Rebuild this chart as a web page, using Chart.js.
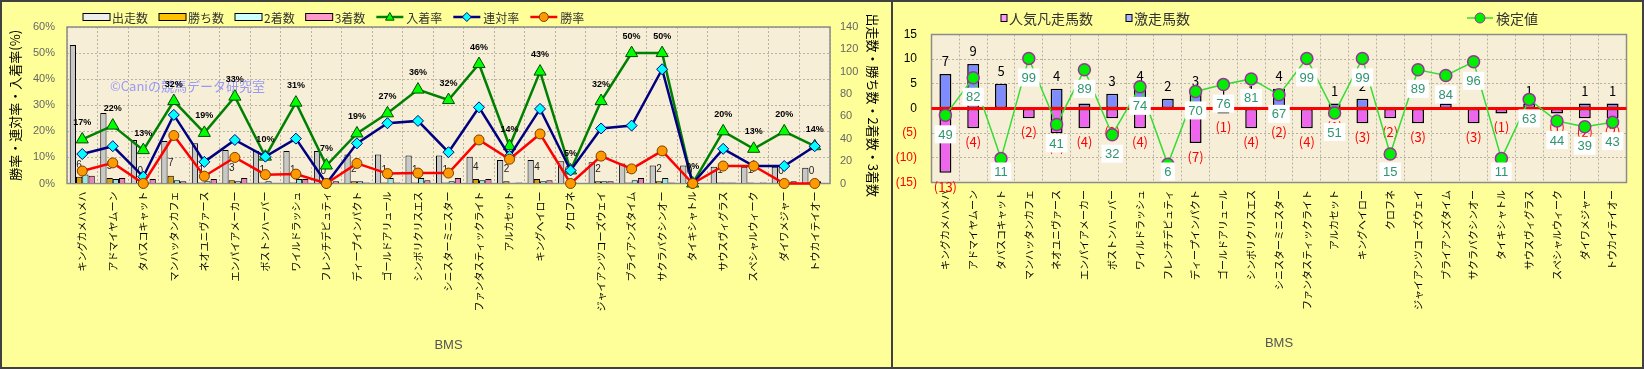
<!DOCTYPE html>
<html>
<head>
<meta charset="utf-8">
<script src="https://cdn.jsdelivr.net/npm/chart.js@4.4.1/dist/chart.umd.min.js"></script>
<style>
  html, body { margin: 0; padding: 0; background: #ffff99; }
  body { width: 1644px; height: 369px; position: relative; overflow: hidden; }
  .panel { position: absolute; top: 0; height: 369px; box-sizing: border-box; border: 2px solid #404040; background: #ffff99; }
  #leftPanel { left: 0; width: 893px; }
  #rightPanel { left: 891px; width: 753px; }
  canvas { display: block; }
</style>
</head>
<body>
<div class="panel" id="leftPanel"><canvas id="leftChart" width="889" height="365"></canvas></div>
<div class="panel" id="rightPanel"><canvas id="rightChart" width="749" height="365"></canvas></div>
<script>
// BMS (母父) 別成績
var categories = ['キングカメハメハ', 'アドマイヤムーン', 'タバスコキャット', 'マンハッタンカフェ', 'ネオユニヴァース',
  'エンパイアメーカー', 'ボストンハーバー', 'ワイルドラッシュ', 'フレンチデピュティ', 'ディープインパクト',
  'ゴールドアリュール', 'シンボリクリスエス', 'シニスターミニスター', 'ファンタスティックライト', 'アルカセット',
  'キングヘイロー', 'クロフネ', 'ジャイアンツコーズウェイ', 'ブライアンズタイム', 'サクラバクシンオー',
  'タイキシャトル', 'サウスヴィグラス', 'スペシャルウィーク', 'ダイワメジャー', 'トウカイテイオー'];

// 左グラフ: 件数 (右軸)
var runs    = [124, 63, 39, 38, 36, 30, 29, 29, 29, 26, 26, 25, 25, 24, 21, 21, 20, 19, 18, 16, 16, 15, 15, 15, 14];
var wins    = [6, 5, 0, 7, 1, 3, 1, 1, 0, 2, 1, 1, 1, 4, 2, 4, 0, 2, 1, 2, 0, 1, 1, 0, 0];
var seconds = [8, 4, 1, 3, 2, 2, 2, 4, 0, 2, 5, 5, 2, 3, 0, 2, 1, 2, 3, 5, 0, 1, 0, 1, 2];
var thirds  = [7, 5, 4, 2, 4, 5, 0, 4, 2, 1, 1, 3, 5, 4, 1, 3, 0, 2, 5, 1, 0, 1, 1, 2, 0];

// 左グラフ: 率 (左軸, %)
var placeRate  = [16.9, 22.2, 12.8, 31.6, 19.4, 33.3, 10.3, 31.0, 6.9, 19.2, 26.9, 36.0, 32.0, 45.8, 14.3, 42.9, 5.0, 31.6, 50.0, 50.0, 0, 20.0, 13.3, 20.0, 14.3];
var rentaiRate = [11.3, 14.3, 2.6, 26.3, 8.3, 16.7, 10.3, 17.2, 0, 15.4, 23.1, 24.0, 12.0, 29.2, 10.5, 28.6, 5.0, 21.1, 22.2, 43.8, 0, 13.3, 6.7, 6.7, 14.3];
var winRate    = [4.8, 7.9, 0, 18.4, 2.8, 10.0, 3.4, 3.6, 0, 7.7, 3.8, 4.0, 4.0, 16.7, 9.3, 19.0, 0, 10.5, 5.6, 12.5, 0, 6.7, 6.7, 0, 0];

// 右グラフ
var ninkiBonsou = [-13, -4, 0, -2, -5, -4, -2, -4, 0, -7, -1, -4, -2, -4, -1, -3, -2, -3, 0, -3, -1, 0, -1, -2, -2];
var gekisou     = [7, 9, 5, 0, 4, 1, 3, 4, 2, 3, 1, 1, 4, 0, 1, 2, 0, 0, 1, 0, 0, 1, 0, 1, 1];
var kentei      = [49, 82, 11, 99, 41, 89, 32, 74, 6, 70, 76, 81, 67, 99, 51, 99, 15, 89, 84, 96, 11, 63, 44, 39, 43];

Chart.defaults.font.family = '"Noto Sans CJK JP", sans-serif';

function drawMarker(c, style, x, y, r) {
  c.beginPath();
  if (style === 'triangle') {
    c.moveTo(x, y - r);
    c.lineTo(x + r * 0.95, y + r * 0.7);
    c.lineTo(x - r * 0.95, y + r * 0.7);
    c.closePath();
  } else if (style === 'rectRot') {
    c.moveTo(x, y - r);
    c.lineTo(x + r, y);
    c.lineTo(x, y + r);
    c.lineTo(x - r, y);
    c.closePath();
  } else {
    c.arc(x, y, r, 0, Math.PI * 2);
  }
  c.fill();
  c.stroke();
}

// 横方向のグラデーション (棒の中央を明るく)
function barGradient(edge, mid) {
  return function (ctx) {
    var el = ctx.element;
    if (!el || el.width === undefined) return edge;
    var x0 = el.x - el.width / 2, x1 = el.x + el.width / 2;
    if (!isFinite(x0) || !isFinite(x1) || x1 <= x0) return edge;
    var g = ctx.chart.ctx.createLinearGradient(x0, 0, x1, 0);
    g.addColorStop(0, edge);
    g.addColorStop(0.45, mid);
    g.addColorStop(1, edge);
    return g;
  };
}

// 背景と枠
var plotBg = {
  id: 'plotBg',
  beforeDraw: function (chart, args, o) {
    var c = chart.ctx, a = chart.chartArea;
    c.save();
    c.fillStyle = o.color;
    c.fillRect(a.left, a.top, a.right - a.left, a.bottom - a.top);
    c.restore();
  },
  beforeDatasetsDraw: function (chart, args, o) {
    var c = chart.ctx, a = chart.chartArea;
    c.save();
    c.strokeStyle = o.frame;
    c.lineWidth = 1.5;
    c.strokeRect(a.left, a.top, a.right - a.left, a.bottom - a.top);
    if (o.watermark) {
      c.font = '13px "Noto Sans CJK JP"';
      c.fillStyle = 'rgba(120, 125, 255, 0.75)';
      c.textBaseline = 'middle';
      c.fillText(o.watermark, o.wmX, o.wmY);
    }
    c.restore();
  }
};

// 凡例
var sheetLegend = {
  id: 'sheetLegend',
  afterDraw: function (chart, args, o) {
    var c = chart.ctx;
    c.save();
    c.font = o.font;
    c.textBaseline = 'middle';
    var x = o.x;
    chart.data.datasets.forEach(function (ds, i) {
      if (o.positions) x = o.positions[i];
      if (ds.type === 'line') {
        c.strokeStyle = ds.borderColor;
        c.lineWidth = ds.borderWidth;
        c.beginPath();
        c.moveTo(x, o.y);
        c.lineTo(x + o.lineW, o.y);
        c.stroke();
        c.fillStyle = ds.pointBackgroundColor;
        c.strokeStyle = ds.pointBorderColor;
        c.lineWidth = 1;
        drawMarker(c, ds.pointStyle, x + o.lineW / 2, o.y, o.markR);
        x += o.lineW + 3;
      } else {
        c.fillStyle = o.swatch[i];
        c.strokeStyle = '#000';
        c.lineWidth = 1;
        c.fillRect(x, o.y - o.boxH / 2, o.boxW, o.boxH);
        c.strokeRect(x, o.y - o.boxH / 2, o.boxW, o.boxH);
        x += o.boxW + 2;
      }
      c.fillStyle = o.color;
      c.fillText(ds.label, x, o.y + 1);
      x += c.measureText(ds.label).width + o.gap;
    });
    c.restore();
  }
};

// 左グラフのラベル
var leftLabels = {
  id: 'leftLabels',
  afterDatasetDraw: function (chart, args) {
    if (args.index !== 1) return;
    var c = chart.ctx;
    c.save();
    c.font = '10px "Liberation Sans"';
    c.fillStyle = '#222';
    c.textAlign = 'center';
    c.textBaseline = 'middle';
    args.meta.data.forEach(function (bar, i) {
      c.fillText(String(wins[i]), bar.x, bar.y - 12);
    });
    c.restore();
  },
  afterDatasetsDraw: function (chart) {
    var c = chart.ctx;
    var meta = chart.getDatasetMeta(4);
    c.save();
    c.font = 'bold 9px "Liberation Sans"';
    c.fillStyle = '#000';
    c.textAlign = 'center';
    c.textBaseline = 'middle';
    meta.data.forEach(function (p, i) {
      c.fillText(Math.round(placeRate[i]) + '%', p.x, p.y - 17);
    });
    c.restore();
  }
};

// 右グラフのラベル
var rightLabels = {
  id: 'rightLabels',
  afterDatasetDraw: function (chart, args) {
    if (args.index !== 0) return;
    var c = chart.ctx, a = chart.chartArea;
    var y0 = chart.scales.y.getPixelForValue(0);
    c.save();
    c.strokeStyle = '#ff0000';
    c.lineWidth = 3;
    c.beginPath();
    c.moveTo(a.left, y0);
    c.lineTo(a.right, y0);
    c.stroke();
    c.font = '13px "Noto Sans CJK JP"';
    c.textAlign = 'center';
    c.textBaseline = 'middle';
    chart.getDatasetMeta(1).data.forEach(function (bar, i) {
      if (gekisou[i] > 0) {
        c.fillStyle = '#000';
        c.fillText(String(gekisou[i]), bar.x, bar.y - 13);
      }
    });
    args.meta.data.forEach(function (bar, i) {
      if (ninkiBonsou[i] < 0) {
        c.fillStyle = '#ff0000';
        c.fillText('(' + (-ninkiBonsou[i]) + ')', bar.x, bar.y + 14);
      }
    });
    c.restore();
  },
  afterDatasetsDraw: function (chart) {
    var c = chart.ctx, a = chart.chartArea;
    c.save();
    c.font = '13px "Liberation Sans"';
    c.textAlign = 'center';
    c.textBaseline = 'middle';
    chart.getDatasetMeta(2).data.forEach(function (p, i) {
      var t = String(kentei[i]);
      var w = c.measureText(t).width + 7;
      var cy = Math.min(p.y + 19, a.bottom - 11);
      c.fillStyle = '#ffffff';
      c.fillRect(p.x - w / 2, cy - 9, w, 18);
      c.fillStyle = '#2f9470';
      c.fillText(t, p.x, cy + 1);
    });
    c.restore();
  }
};

var gridColor = '#b8b2a4';
var catTicks = { maxRotation: 90, minRotation: 90, autoSkip: false, color: '#000', font: { size: 10 } };

new Chart(document.getElementById('leftChart'), {
  type: 'bar',
  data: {
    labels: categories,
    datasets: [
      { type: 'bar', label: '出走数', data: runs, yAxisID: 'y2', backgroundColor: barGradient('#c8c8c8', '#ffffff'), borderColor: '#000', borderWidth: 1, order: 10 },
      { type: 'bar', label: '勝ち数', data: wins, yAxisID: 'y2', backgroundColor: barGradient('#d9a000', '#ffd54a'), borderColor: '#000', borderWidth: 1, order: 11 },
      { type: 'bar', label: '2着数', data: seconds, yAxisID: 'y2', backgroundColor: barGradient('#99e6e6', '#eaffff'), borderColor: '#000', borderWidth: 1, order: 12 },
      { type: 'bar', label: '3着数', data: thirds, yAxisID: 'y2', backgroundColor: barGradient('#ee7fb8', '#ffd0e8'), borderColor: '#000', borderWidth: 1, order: 13 },
      { type: 'line', label: '入着率', data: placeRate, yAxisID: 'y', borderColor: '#008000', borderWidth: 2.5,
        pointStyle: 'triangle', pointRadius: 7, pointBackgroundColor: '#00ff00', pointBorderColor: '#004d00', pointBorderWidth: 1,
        tension: 0, clip: false, order: 3 },
      { type: 'line', label: '連対率', data: rentaiRate, yAxisID: 'y', borderColor: '#000080', borderWidth: 2.5,
        pointStyle: 'rectRot', pointRadius: 5.5, pointBackgroundColor: '#00ffff', pointBorderColor: '#000080', pointBorderWidth: 1,
        tension: 0, clip: false, order: 2 },
      { type: 'line', label: '勝率', data: winRate, yAxisID: 'y', borderColor: '#ff0000', borderWidth: 2.5,
        pointStyle: 'circle', pointRadius: 5, pointBackgroundColor: '#ff9900', pointBorderColor: '#7a3d00', pointBorderWidth: 1,
        tension: 0, clip: false, order: 1 }
    ]
  },
  options: {
    responsive: false,
    animation: false,
    events: [],
    datasets: { bar: { barPercentage: 1, categoryPercentage: 0.82 } },
    layout: { padding: { left: 5, right: 10.2, top: 25, bottom: 14.2 } },
    scales: {
      x: {
        grid: { color: gridColor, drawTicks: false },
        border: { display: false, dash: [2, 2] },
        ticks: Object.assign({ padding: 8 }, catTicks),
        title: { display: true, text: 'BMS', color: '#555', padding: 0, font: { size: 13, family: '"Liberation Sans"' } },
        afterFit: function (s) { s.height = 169.3; }
      },
      y: {
        position: 'left',
        min: 0, max: 60,
        grid: { color: gridColor, drawTicks: false },
        border: { display: false, dash: [2, 2] },
        ticks: { stepSize: 10, padding: 12, color: '#666', font: { size: 11, family: '"Liberation Sans"' },
          callback: function (v) { return v + '%'; } },
        title: { display: true, text: '勝率・連対率・入着率(%)', color: '#000', padding: 0, font: { size: 13 } },
        afterFit: function (s) { s.width = 60; }
      },
      y2: {
        position: 'right',
        min: 0, max: 140,
        grid: { drawOnChartArea: false, drawTicks: false },
        border: { display: false },
        ticks: { stepSize: 20, padding: 10, color: '#666', font: { size: 11, family: '"Liberation Sans"' } },
        title: { display: true, text: '出走数・勝ち数・2着数・3着数', color: '#000', padding: 0, font: { size: 13 } },
        afterFit: function (s) { s.width = 50.8; }
      }
    },
    plugins: {
      legend: { display: false },
      tooltip: { enabled: false },
      plotBg: { color: '#f7eed8', frame: '#8c8c8c', watermark: '©Caniの競馬データ研究室', wmX: 108, wmY: 84 },
      sheetLegend: { x: 81, y: 15, font: '12px "Noto Sans CJK JP"', color: '#333', boxW: 27, boxH: 7, lineW: 27, markR: 4.5, gap: 11,
        swatch: ['#eeeeee', '#ffc000', '#ccffff', '#ff99cc'] }
    }
  },
  plugins: [plotBg, sheetLegend, leftLabels]
});

new Chart(document.getElementById('rightChart'), {
  type: 'bar',
  data: {
    labels: categories,
    datasets: [
      { type: 'bar', label: '人気凡走馬数', data: ninkiBonsou, yAxisID: 'y', backgroundColor: barGradient('#ee66ee', '#ffe6ff'), borderColor: '#000', borderWidth: 1.5, borderSkipped: false, order: 10 },
      { type: 'bar', label: '激走馬数', data: gekisou, yAxisID: 'y', backgroundColor: barGradient('#7f8cff', '#eef0ff'), borderColor: '#000', borderWidth: 1.5, borderSkipped: false, order: 11 },
      { type: 'line', label: '検定値', data: kentei, yAxisID: 'y2', borderColor: '#33dd33', borderWidth: 1.5,
        pointStyle: 'circle', pointRadius: 6, pointBackgroundColor: '#00ee00', pointBorderColor: '#993399', pointBorderWidth: 1.5,
        tension: 0, clip: false, order: 1 }
    ]
  },
  options: {
    responsive: false,
    animation: false,
    events: [],
    datasets: { bar: { barPercentage: 0.43, categoryPercentage: 1 } },
    layout: { padding: { left: 0, right: 15.5, top: 32.5, bottom: 16.2 } },
    scales: {
      x: {
        stacked: true,
        grid: { color: gridColor, drawTicks: false },
        border: { display: false, dash: [2, 2] },
        ticks: Object.assign({ padding: 7.5 }, catTicks),
        title: { display: true, text: 'BMS', color: '#555', padding: 0, font: { size: 13, family: '"Liberation Sans"' } },
        afterFit: function (s) { s.height = 168.3; }
      },
      y: {
        stacked: true,
        min: -15, max: 15,
        grid: { color: gridColor, drawTicks: false },
        border: { display: false, dash: [2, 2] },
        ticks: {
          stepSize: 5, padding: 14.5, font: { size: 12, family: '"Liberation Sans"' },
          color: function (ctx) { return ctx.tick && ctx.tick.value < 0 ? '#ff0000' : '#000'; },
          callback: function (v) { return v < 0 ? '(' + (-v) + ')' : String(v); }
        },
        afterFit: function (s) { s.width = 38.5; }
      },
      y2: { display: false, min: -10, max: 120 }
    },
    plugins: {
      legend: { display: false },
      tooltip: { enabled: false },
      plotBg: { color: '#f7eed8', frame: '#8c8c8c' },
      sheetLegend: { positions: [108, 233, 574], y: 16, font: '14px "Noto Sans CJK JP"', color: '#333', boxW: 6, boxH: 7, lineW: 26, markR: 5, gap: 0,
        swatch: ['#ff99ff', '#aab4ff'] }
    }
  },
  plugins: [plotBg, sheetLegend, rightLabels]
});
</script>
</body>
</html>
